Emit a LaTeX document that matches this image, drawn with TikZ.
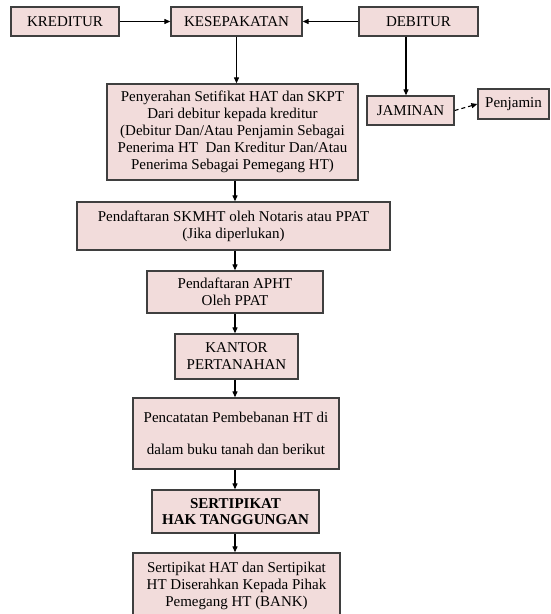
\documentclass[tikz,border=0pt]{standalone}
\usepackage{fontspec}
\setmainfont{Liberation Serif}
\usetikzlibrary{arrows.meta}
\definecolor{boxfill}{HTML}{F2DCDB}
\definecolor{boxline}{HTML}{3F3F3F}
\begin{document}
\begin{tikzpicture}[x=1pt,y=-1pt,
  box/.style={draw=boxline,fill=boxfill,line width=1.3pt,inner sep=0pt,align=center,
    font=\fontsize{15}{17}\selectfont},
  arr/.style={draw=black,line width=1.1pt,-{Triangle[length=6pt,width=5pt]}}]
\clip (0,0) rectangle (550,614);
\fill[white] (0,0) rectangle (550,614);
\coordinate (ax) at (235,0);
\coordinate (dx) at (406,0);
\node[box,minimum width=108pt,minimum height=29pt] (kred) at (65,21.5) {KREDITUR};
\node[box,minimum width=131pt,minimum height=29pt] (kese) at (236.5,21.5) {KESEPAKATAN};
\node[box,minimum width=119pt,minimum height=29pt] (deb) at (418.5,21.5) {DEBITUR};
\node[box,minimum width=251pt,minimum height=96pt] (peny) at (232.5,132) {Penyerahan Setifikat HAT dan SKPT\\Dari debitur kepada kreditur\\(Debitur Dan/Atau Penjamin Sebagai\\Penerima HT\ \ Dan Kreditur Dan/Atau\\Penerima Sebagai Pemegang HT)};
\node[box,minimum width=87pt,minimum height=29pt] (jam) at (410.5,110.5) {JAMINAN};
\node[box,minimum width=71pt,minimum height=30pt] (penj) at (513.5,104) {Penjamin};
\node[box,minimum width=313pt,minimum height=48pt] (skm) at (233.5,226) {Pendaftaran SKMHT oleh Notaris atau PPAT\\(Jika diperlukan)};
\node[box,minimum width=176pt,minimum height=42pt] (apht) at (235,292) {Pendaftaran APHT\\Oleh PPAT};
\node[box,minimum width=123pt,minimum height=45pt] (kant) at (236.5,356.5) {KANTOR\\PERTANAHAN};
\node[box,minimum width=206pt,minimum height=71pt] (penc) at (236,433.5) {Pencatatan Pembebanan HT di\\[15pt]dalam buku tanah dan berikut};
\node[box,minimum width=167pt,minimum height=43pt,font=\fontsize{15}{16}\selectfont\bfseries] (sert) at (235.5,511.5) {SERTIPIKAT\\HAK TANGGUNGAN};
\node[box,minimum width=207pt,minimum height=66pt] (last) at (236.5,586) {Sertipikat HAT dan Sertipikat\\HT Diserahkan Kepada Pihak\\Pemegang HT (BANK)};
\draw[arr] (kred.east) -- (kese.west);
\draw[arr] (deb.west) -- (kese.east);
\draw[arr] (kese.south) -- (kese.south |- peny.north);
\draw[arr] (deb.south -| dx) -- (jam.north -| dx);
\draw[arr,dash pattern=on 4pt off 3pt] (jam.east) -- (penj.west);
\draw[arr] (peny.south -| ax) -- (skm.north -| ax);
\draw[arr] (skm.south -| ax) -- (apht.north -| ax);
\draw[arr] (apht.south -| ax) -- (kant.north -| ax);
\draw[arr] (kant.south -| ax) -- (penc.north -| ax);
\draw[arr] (penc.south -| ax) -- (sert.north -| ax);
\draw[arr] (sert.south -| ax) -- (last.north -| ax);
\end{tikzpicture}
\end{document}
